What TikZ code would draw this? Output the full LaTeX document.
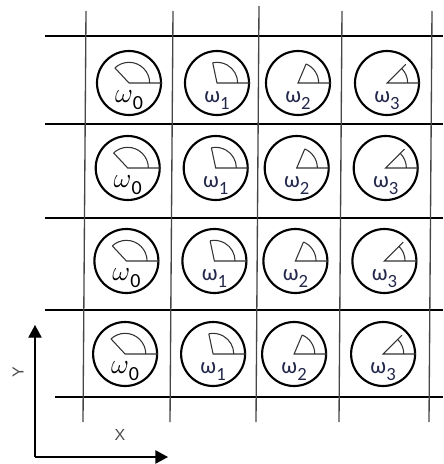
\documentclass[tikz,border=0pt]{standalone}
\usepackage{fontspec}
\usepackage{tikz}
\usetikzlibrary{arrows.meta, calc}
\newfontfamily\calfont{Carlito}
\newfontfamily\axisfont{Liberation Sans}
\definecolor{gridgray}{RGB}{70, 70, 70}
\definecolor{inkblue}{RGB}{35, 40, 75}
\newcommand{\omz}{{\color{black}\fontsize{20}{22}\selectfont$\omega$\raisebox{-0.25em}{\fontsize{15}{15}\selectfont 0}}}
\newcommand{\omg}[1]{ω\raisebox{-0.3em}{\fontsize{14}{14}\selectfont #1}}
\tikzset{
  % Grid lines
  gridline/.style={line width=1pt, draw=gridgray},
  % Wheel circle
  wheel/.style={
    circle, draw=black, line width=1.6pt,
    minimum size=48pt, inner sep=0pt
  },
  % Angle sector lines
  sector/.style={line width=0.8pt, draw=black!80},
  % Omega label
  omegalbl/.style={font=\calfont\fontsize{17}{19}\selectfont, text=inkblue, inner sep=0pt},
  % Axis arrow
  axis/.style={-{Triangle[length=9.5pt, width=10pt]}, line width=1pt, draw=black},
  axislbl/.style={font=\axisfont\fontsize{12}{14}\selectfont, text=black!70},
}

\begin{document}
\begin{tikzpicture}[x=0.75pt, y=-0.75pt]
  \useasboundingbox (0,0) rectangle (443,464);
  % Grid
  \foreach \gy/\gx in {36/45, 124/45, 218/45, 310/45, 397/55}
    \draw[gridline, draw=black] (\gx,\gy) -- (443,\gy);
  \foreach \gx/\gt in {86/11, 173/11, 259/6, 342/11, 432/11}
    \draw[gridline] (\gx,\gt) -- (\gx-3,422);
  % Wheels
  \foreach \cy [count=\r from 0] in {83, 168, 261, 354} {
    \foreach \cx/\ang/\len/\lbl [count=\k from 0] in
        {129/133/15.5/\omz, 217/102/15.5/\omg{1}, 298/67/15.5/\omg{2}, 387/45/20/\omg{3}} {
      \pgfmathsetmacro\px{\cx-1.3*\r}
      \node[wheel] (c\r\k) at (\px,\cy) {};
      \draw[sector] (c\r\k.east) -- (c\r\k.center) -- ++(\ang:\len pt);
      \draw[sector] (c\r\k.center) ++(0:15.5pt) arc[start angle=0, end angle=\ang, radius=15.5pt];
      \node[omegalbl] (l\r\k) at ([yshift=-13pt]c\r\k.center) {\lbl};
    }
  }
  % Axes
  \coordinate (origin) at (35,457);
  \coordinate (ytip) at (35,325);
  \coordinate (xtip) at (168,457);
  \draw[axis] (origin) -- (ytip);
  \draw[axis] (origin) -- (xtip);
  \node[axislbl, rotate=90] (ylbl) at (18,372) {Y};
  \node[axislbl] (xlbl) at (120,435) {X};
\end{tikzpicture}
\end{document}
